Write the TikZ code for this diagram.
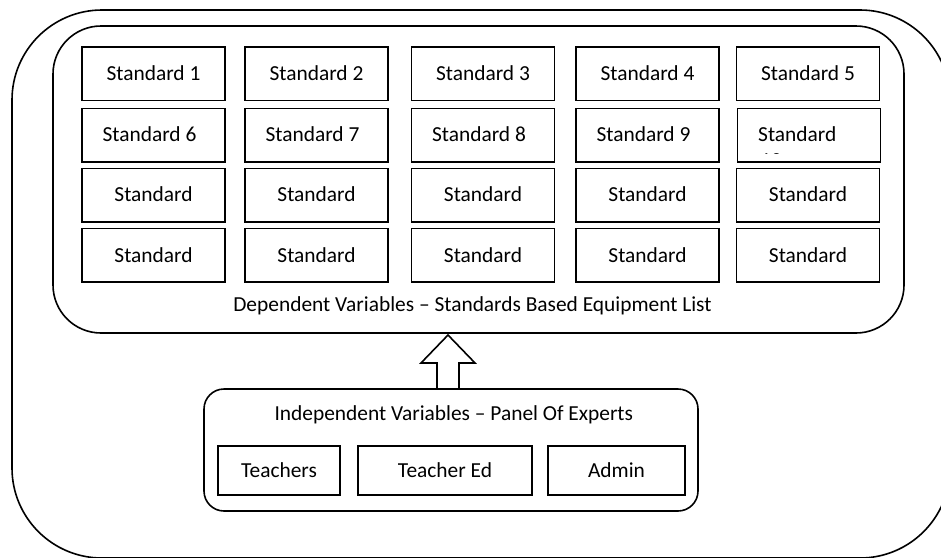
\documentclass[tikz,border=0pt]{standalone}
\usepackage{fontspec}
\setmainfont{Carlito}
\usetikzlibrary{calc}
\begin{document}
\begin{tikzpicture}[x=1pt,y=-1pt,
  every node/.style={font=\fontsize{21.4}{26}\selectfont, inner sep=0pt},
  cont/.style={draw, line width=1.6pt, fill=none},
  stdbox/.style={draw, line width=1.6pt, minimum width=143pt, minimum height=53.4pt, text height=13.8pt, text depth=0pt},
  pbox/.style={draw, line width=1.6pt, minimum height=49pt, text height=13.8pt, text depth=0pt},
  lbl/.style={anchor=base}]
\useasboundingbox (0,0) rectangle (941,557);
\clip (0,0) rectangle (941,557);
% containers
\node[cont, rounded corners=90pt, minimum width=938pt, minimum height=548pt] (outer) at (481,284) {};
\node[cont, rounded corners=48pt, minimum width=851pt, minimum height=307pt] (dep) at (478.5,179.5) {};
\node[cont, rounded corners=20pt, minimum width=494pt, minimum height=122pt] (panel) at (451,450) {};
% row 1
\node[stdbox] (s1) at (153.5,73.85) {Standard 1};
\node[stdbox] (s2) at (316.5,73.85) {Standard 2};
\node[stdbox] (s3) at (483,73.85) {Standard 3};
\node[stdbox] (s4) at (647.5,73.85) {Standard 4};
\node[stdbox] (s5) at (808,73.85) {Standard 5};
% row 2
\node[stdbox] (s6) at (153.5,135) {};
\node[stdbox] (s7) at (316.5,135) {};
\node[stdbox] (s8) at (483,135) {};
\node[stdbox] (s9) at (647.5,135) {};
\node[stdbox] (s10) at (809,135) {};
\node[anchor=base] (t6) at ($(s6.center)+(-4,6.9)$) {Standard 6};
\node[anchor=base] (t7) at ($(s7.center)+(-4,6.9)$) {Standard 7};
\node[anchor=base] (t8) at ($(s8.center)+(-4,6.9)$) {Standard 8};
\node[anchor=base] (t9) at ($(s9.center)+(-4,6.9)$) {Standard 9};
\begin{scope}
  \clip ($(s10.north west)+(1,1)$) rectangle (880,153);
  \node[anchor=base west] (t10a) at (758,141.9) {Standard};
  \node[anchor=base west] (t10b) at (760,167.6) {10};
\end{scope}
% rows 3 and 4
\foreach \r/\y in {3/195,4/255.35}{
  \node[stdbox] (s\r-1) at (153.5,\y) {Standard};
  \node[stdbox] (s\r-2) at (316.5,\y) {Standard};
  \node[stdbox] (s\r-3) at (483,\y) {Standard};
  \node[stdbox] (s\r-4) at (647.5,\y) {Standard};
  \node[stdbox] (s\r-5) at (808,\y) {Standard};
}
\node[lbl] (deplabel) at (472.5,311.5) {Dependent Variables – Standards Based Equipment List};
% panel
\node[lbl] (panellabel) at (453.8,420) {Independent Variables – Panel Of Experts};
\node[pbox, minimum width=122pt] (teachers) at (279,470.5) {Teachers};
\node[pbox, minimum width=174pt] (teached) at (445,470.5) {Teacher Ed};
\node[pbox, minimum width=137pt] (admin) at (616.5,470.5) {Admin};
% block arrow from panel to dependent list
\coordinate (abase) at (448,388);
\coordinate (atip) at (448,335);
\draw[line width=1.6pt, line join=miter]
  ($(abase)+(-11,0)$) -- ($(abase)+(-11,-25)$) -- ($(abase)+(-27,-25)$) -- (atip)
  -- ($(abase)+(27,-25)$) -- ($(abase)+(11,-25)$) -- ($(abase)+(11,0)$);
\end{tikzpicture}
\end{document}
